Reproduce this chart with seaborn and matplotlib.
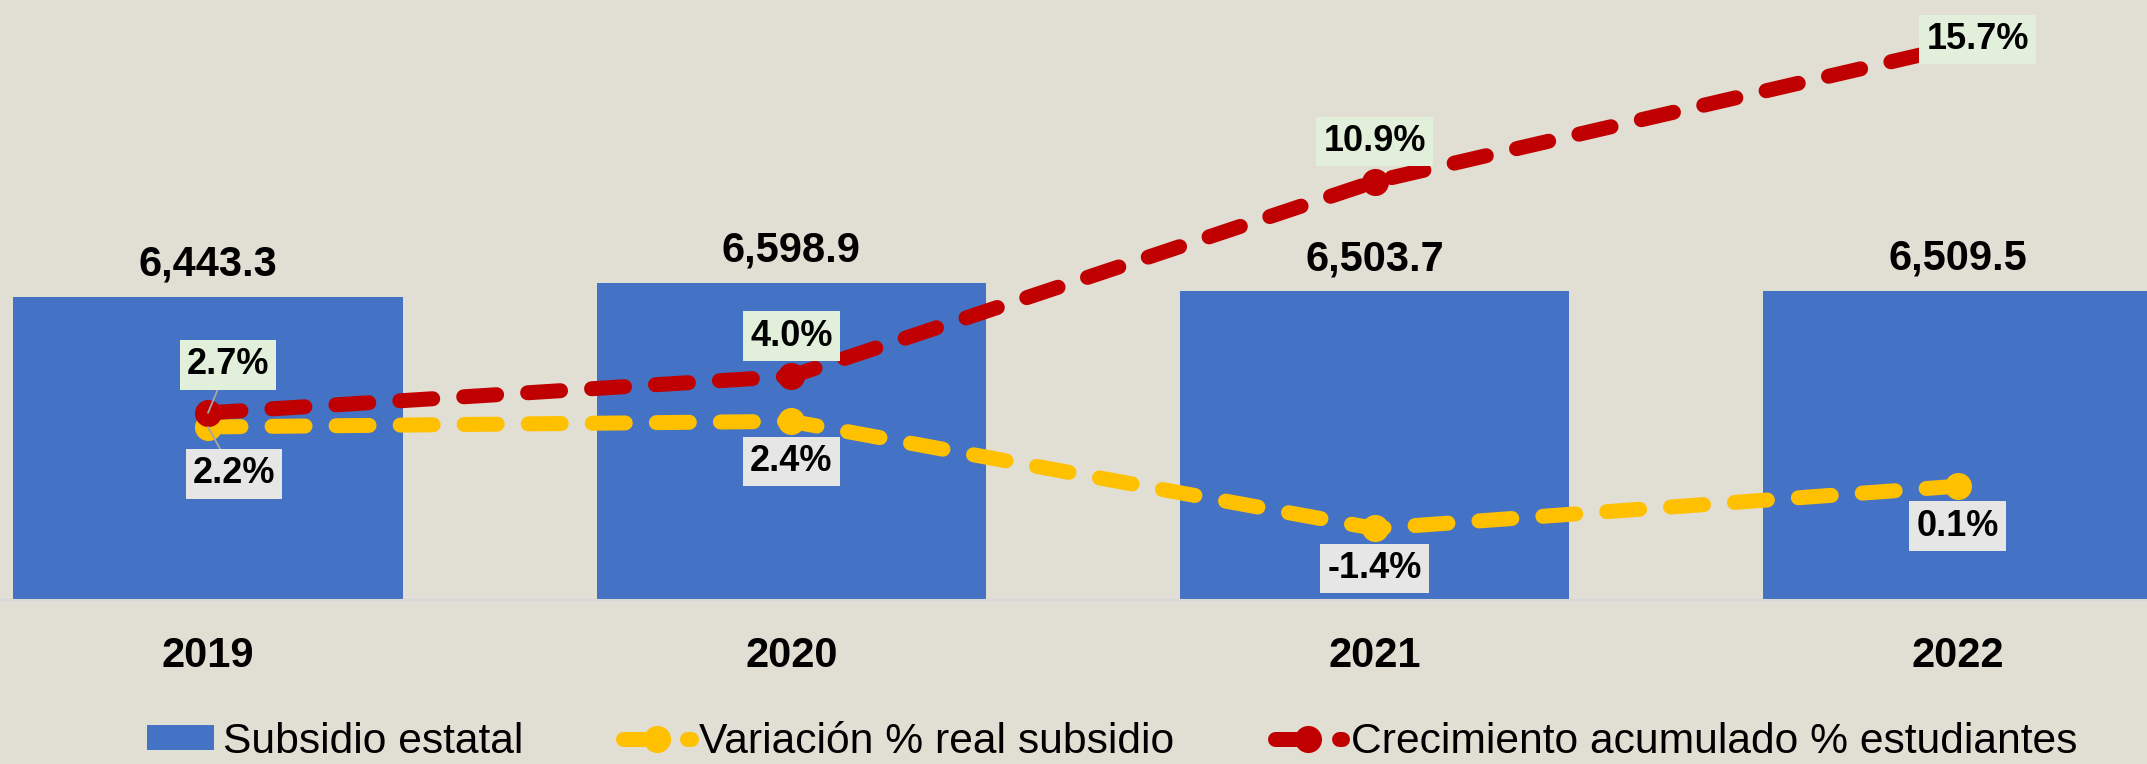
import matplotlib
matplotlib.use('Agg')
import matplotlib.pyplot as plt
import seaborn as sns
import numpy as np
import pandas as pd

# ---- data ----
years = ['2019', '2020', '2021', '2022']
subsidio = [6443.3, 6598.9, 6503.7, 6509.5]
variacion = [2.2, 2.4, -1.4, 0.1]
crecimiento = [2.7, 4.0, 10.9, 15.7]
series_names = ['Subsidio estatal', 'Variación % real subsidio',
                'Crecimiento acumulado % estudiantes']

# ---- style ----
sns.set_theme(style='white')
plt.rcParams['font.family'] = ['Liberation Sans', 'DejaVu Sans']
plt.rcParams['text.color'] = 'black'
plt.rcParams['xtick.color'] = 'black'
plt.rcParams['ytick.color'] = 'black'

BG = '#E1DED4'
BLUE = '#4472C4'
YEL = '#FFC000'
RED = '#C00000'

df = pd.DataFrame({'year': years, 'pos': np.arange(len(years)),
                   'subsidio': subsidio, 'variacion': variacion,
                   'crecimiento': crecimiento})

fig = plt.figure(figsize=(21.47, 7.64), dpi=100, facecolor=BG)
ax = fig.add_axes([0, 164 / 764, 1, 600 / 764])
ax.set_facecolor(BG)

sns.barplot(data=df, x='year', y='subsidio', color=BLUE, width=0.667,
            saturation=1, linewidth=0, edgecolor=BLUE, ax=ax)
bars = ax.containers[0]
ax.bar_label(bars, labels=[f'{v:,.1f}' for v in subsidio], padding=8.6,
             fontsize=30, fontweight='bold', color='black')

ax2 = ax.twinx()
line_kw = dict(lw=10.8, marker='o', markersize=19.5, markeredgewidth=0,
               linestyle=(0, (2.2, 2.07)), dash_capstyle='round')
sns.lineplot(data=df, x='pos', y='variacion', ax=ax2, color=YEL,
             legend=False, **line_kw)
sns.lineplot(data=df, x='pos', y='crecimiento', ax=ax2, color=RED,
             legend=False, **line_kw)
line_var, line_cre = ax2.lines[0], ax2.lines[1]

# data labels for lines
off_var = [(26, -47), (0, -40), (0, -40), (0, -40)]
off_cre = [(20, 48), (0, 40), (0, 40), (20, 7)]
for vals, offs, bg in [(variacion, off_var, '#E7E6E6'),
                       (crecimiento, off_cre, '#E2EFDA')]:
    for i, (v, o) in enumerate(zip(vals, offs)):
        arrow = None
        if i == 0:
            arrow = dict(arrowstyle='-', color='#A6A6A6', lw=1.3,
                         shrinkA=0, shrinkB=0)
        ax2.annotate(f'{v:.1f}%', xy=(i, v), xytext=o,
                     textcoords='offset pixels', ha='center', va='center',
                     fontsize=26, fontweight='bold', color='black',
                     bbox=dict(boxstyle='square,pad=0.2', fc=bg, ec='none'),
                     arrowprops=arrow, zorder=5)

# axes limits / cosmetics
ax.set_ylim(3000, 9810)
ax2.set_ylim(-3.936, 17.34)
ax.set_xlim(-0.3566, 3.3242)
ax2.set_xlim(-0.3566, 3.3242)
ax.set_xlabel('')
ax.set_ylabel('')
ax2.set_ylabel('')
ax.set_yticks([])
ax2.set_yticks([])
ax.set_xticks(np.arange(len(years)))
ax.set_xticklabels(years, fontsize=30, fontweight='bold', color='black')
ax.tick_params(axis='x', length=0, pad=26, labelcolor='black')
for a in (ax, ax2):
    for s in a.spines.values():
        s.set_visible(False)
ax.spines['bottom'].set_visible(True)
ax.spines['bottom'].set_color('#D9D9D9')
ax.spines['bottom'].set_linewidth(1.5)

leg = fig.legend(handles=[bars, line_var, line_cre], labels=series_names,
                 loc='center', bbox_to_anchor=(1112 / 2147, 1 - 742 / 764),
                 ncol=3, frameon=False, fontsize=30.7, handlelength=1.58,
                 handleheight=0.52, handletextpad=0.2, columnspacing=2.35,
                 borderaxespad=0, borderpad=0)
for t in leg.get_texts():
    t.set_color('black')

fig.savefig('out.png', dpi=100, facecolor=BG)
